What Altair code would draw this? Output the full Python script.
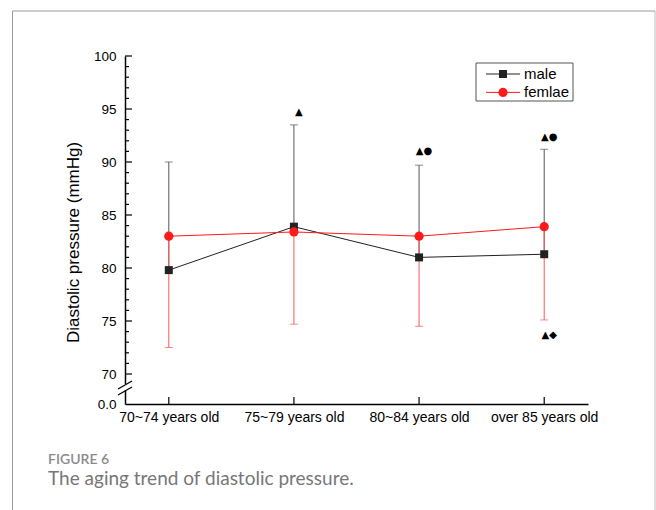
import altair as alt
import pandas as pd

# ---------------- data ----------------
ages = ["70~74 years old", "75~79 years old", "80~84 years old", "over 85 years old"]
male_mean = [79.8, 83.9, 81.0, 81.3]
male_upper = [90.0, 93.5, 89.7, 91.2]
female_mean = [83.0, 83.4, 83.0, 83.9]
female_lower = [72.5, 74.7, 74.5, 75.1]

note_age = ["75~79 years old", "80~84 years old", "over 85 years old", "over 85 years old"]
note_val = [94.7, 91.0, 92.4, 73.7]
note_txt = ["▲", "▲●", "▲●", "▲◆"]

major_ticks = [70, 75, 80, 85, 90, 95, 100]
minor_ticks = [v for v in range(71, 100) if v % 5 != 0]
y_bottom = 67.17  # bottom of broken axis, labelled 0.0

series_names = ["male", "femlae"]
series_line = ["#222222", "#ff1a1a"]
series_bar = ["#555555", "#ff5555"]
series_shape = ["square", "circle"]
series_size = [64, 85]

FONT = "Liberation Sans"

male_df = pd.DataFrame({"age": ages, "val": male_mean, "end": male_upper})
female_df = pd.DataFrame({"age": ages, "val": female_mean, "end": female_lower})
note_df = pd.DataFrame({"age": note_age, "val": note_val, "txt": note_txt})
major_df = pd.DataFrame({"val": major_ticks})
minor_df = pd.DataFrame({"val": minor_ticks})
cat_df = pd.DataFrame({"age": ages, "val": [y_bottom] * 4})
one = pd.DataFrame({"k": [0]})

W, H = 463, 348

xscale = alt.Scale(type="point", domain=ages, padding=0.35)
xaxis = alt.Axis(title=None, labelAngle=0, ticks=False, tickSize=0, grid=False,
                 domainColor="black", domainWidth=1.5, labelFont=FONT,
                 labelFontSize=14, labelColor="black", labelPadding=6)
yscale = alt.Scale(domain=[y_bottom, 100], nice=False, zero=False)
yaxis = alt.Axis(title="Diastolic pressure (mmHg)", values=[y_bottom] + major_ticks,
                 labelExpr="datum.value < 69 ? '0.0' : format(datum.value, 'd')",
                 ticks=False, tickSize=0, grid=False, domainColor="black", domainWidth=1.5,
                 labelFont=FONT, labelFontSize=13.5, labelColor="black", labelPadding=9,
                 titleFont=FONT, titleFontSize=17, titleFontWeight="normal",
                 titleColor="black", titleX=-47, titleY=186, titleBaseline="alphabetic")


def X(field="age"):
    return alt.X(f"{field}:N", scale=xscale, axis=xaxis, sort=ages)


def Y(field="val"):
    return alt.Y(f"{field}:Q", scale=yscale, axis=yaxis)


layers = []

# error bars
for df, col in [(male_df, series_bar[0]), (female_df, series_bar[1])]:
    layers.append(alt.Chart(df).mark_rule(color=col, strokeWidth=1).encode(
        x=X(), y=Y("val"), y2="end:Q"))
    layers.append(alt.Chart(df).mark_tick(color=col, thickness=1, size=8).encode(
        x=X(), y=Y("end")))

# lines
for df, col in [(male_df, series_line[0]), (female_df, series_line[1])]:
    layers.append(alt.Chart(df).mark_line(color=col, strokeWidth=1).encode(x=X(), y=Y()))

# markers
for df, col, shp, sz in zip([male_df, female_df], series_line, series_shape, series_size):
    layers.append(alt.Chart(df).mark_point(filled=True, opacity=1, color=col, shape=shp,
                                           size=sz).encode(x=X(), y=Y()))

# annotations
layers.append(alt.Chart(note_df).mark_text(font="DejaVu Sans", fontSize=10, color="black",
                                           dx=5, baseline="middle").encode(
    x=X(), y=Y(), text="txt:N"))

# inward ticks
layers.append(alt.Chart(major_df).mark_rule(color="black", strokeWidth=1.2).encode(
    y=Y(), x=alt.value(0), x2=alt.value(7)))
layers.append(alt.Chart(minor_df).mark_rule(color="black", strokeWidth=1.2).encode(
    y=Y(), x=alt.value(0), x2=alt.value(4)))
layers.append(alt.Chart(cat_df).mark_rule(color="black", strokeWidth=1.2).encode(
    x=X(), y=alt.value(H), y2=alt.value(H - 7)))

# axis break
layers.append(alt.Chart(one).mark_rule(color="white", strokeWidth=4).encode(
    x=alt.value(0), y=alt.value(328), y2=alt.value(334)))
for yy in [329, 335]:
    layers.append(alt.Chart(one).mark_rule(color="black", strokeWidth=1.2).encode(
        x=alt.value(-7), x2=alt.value(7), y=alt.value(yy + 4), y2=alt.value(yy - 4)))

# legend
layers.append(alt.Chart(one).mark_rect(fill="white", stroke="#555555", strokeWidth=1).encode(
    x=alt.value(351), x2=alt.value(448), y=alt.value(7), y2=alt.value(45)))
for i, (name, col, shp, sz) in enumerate(zip(series_names, series_line, series_shape, series_size)):
    yy = 18 + 18.4 * i
    leg = pd.DataFrame({"name": [name]})
    layers.append(alt.Chart(leg).mark_rule(color=col, strokeWidth=1).encode(
        x=alt.value(361), x2=alt.value(395), y=alt.value(yy)))
    layers.append(alt.Chart(leg).mark_point(filled=True, opacity=1, color=col, shape=shp,
                                            size=sz).encode(x=alt.value(378), y=alt.value(yy)))
    layers.append(alt.Chart(leg).mark_text(font=FONT, fontSize=15, color="black", align="left",
                                           baseline="middle").encode(
        x=alt.value(399), y=alt.value(yy), text="name:N"))

# caption
cap = pd.DataFrame({"t": ["FIGURE 6"]})
layers.append(alt.Chart(cap).mark_text(font="Lato", fontSize=14, fontWeight=600, color="#8a8a8a",
                                       align="left", baseline="alphabetic").encode(
    x=alt.value(-77), y=alt.value(407.5), text="t:N"))
cap2 = pd.DataFrame({"t": ["The aging trend of diastolic pressure."]})
layers.append(alt.Chart(cap2).mark_text(font="Lato", fontSize=19, color="#777777",
                                        align="left", baseline="alphabetic").encode(
    x=alt.value(-77), y=alt.value(429), text="t:N"))

# frame
layers.append(alt.Chart(one).mark_rule(color="#999999", strokeWidth=1).encode(
    x=alt.value(-112.5), y=alt.value(-45), y2=alt.value(454)))
layers.append(alt.Chart(one).mark_rule(color="#999999", strokeWidth=1).encode(
    x=alt.value(-112.5), x2=alt.value(530), y=alt.value(-45)))
layers.append(alt.Chart(one).mark_rule(color="#bbbbbb", strokeWidth=1).encode(
    x=alt.value(530), y=alt.value(-45), y2=alt.value(454)))

chart = alt.layer(*layers).properties(
    width=W, height=H,
    padding={"left": 12, "top": 10, "right": 0, "bottom": 0},
    background="white",
).configure_view(stroke=None)

chart.save("out.html", embed_options={"renderer": "svg", "actions": False})
